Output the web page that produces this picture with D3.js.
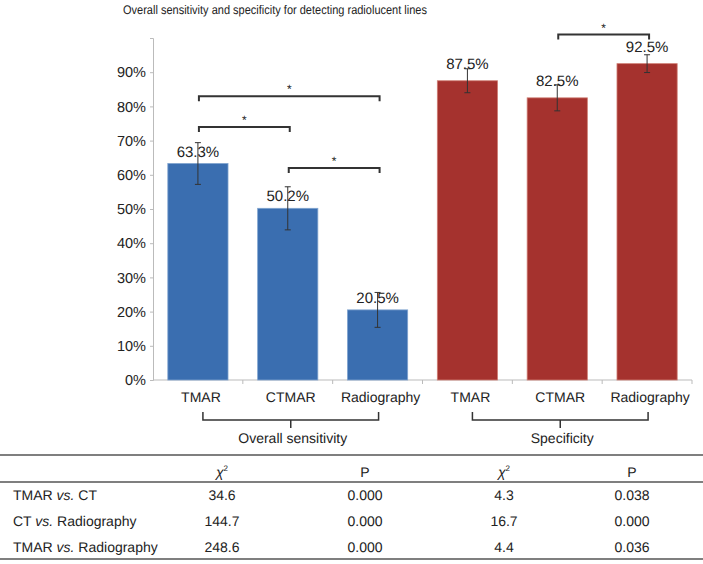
<!DOCTYPE html>
<html>
<head>
<meta charset="utf-8">
<script src="https://cdn.jsdelivr.net/npm/d3@7"></script>
<style>
  body { margin: 0; background: #fff; }
  svg { display: block; font-family: 'Liberation Sans', Arial, sans-serif; }
</style>
</head>
<body>
<div class="chart"></div>
<script>
const categories = ['TMAR', 'CTMAR', 'Radiography', 'TMAR', 'CTMAR', 'Radiography']
const groupOf = [0, 0, 0, 1, 1, 1]
const values = [63.3, 50.2, 20.5, 87.5, 82.5, 92.5]
const errors = [6.1, 6.3, 5.1, 3.5, 3.8, 2.6]
const groups = ['Overall sensitivity', 'Specificity']
const yTicks = [0, 10, 20, 30, 40, 50, 60, 70, 80, 90, 100]

// significance brackets: bar index from / to, height in % units
const brackets = [
  { from: 0, to: 2, level: 83 },
  { from: 0, to: 1, level: 74 },
  { from: 1, to: 2, level: 62 },
  { from: 4, to: 5, level: 101 }
]

const rowLabels = [
  ['TMAR ', 'vs.', ' CT'],
  ['CT ', 'vs.', ' Radiography'],
  ['TMAR ', 'vs.', ' Radiography']
]
const sensChi = ['34.6', '144.7', '248.6']
const sensP = ['0.000', '0.000', '0.000']
const specChi = ['4.3', '16.7', '4.4']
const specP = ['0.038', '0.000', '0.036']

;(function init() {
  const width = 703
  const height = 564
  const colors = ['#3a6eb0', '#a5322e']
  const strokes = ['#7fa3cf', '#cf7d73']

  const svg = d3
    .select('.chart')
    .append('svg')
    .attr('width', width)
    .attr('height', height)
    .style('text-rendering', 'geometricPrecision')

  const xScale = d3
    .scaleBand()
    .domain(d3.range(categories.length))
    .range([153, 692])
    .paddingInner(0.33)
    .paddingOuter(0.165)

  const yScale = d3.scaleLinear().domain([0, 100]).range([380, 38])

  const cx = (i) => xScale(i) + xScale.bandwidth() / 2

  // title
  svg
    .append('text')
    .attr('x', 275)
    .attr('y', 14)
    .attr('text-anchor', 'middle')
    .attr('textLength', 304)
    .attr('lengthAdjust', 'spacingAndGlyphs')
    .style('font-size', '12.5px')
    .style('fill', '#222')
    .text('Overall sensitivity and specificity for detecting radiolucent lines')

  // y axis
  const yAxis = d3
    .axisLeft(yScale)
    .tickValues(yTicks)
    .tickSize(3)
    .tickPadding(4)
    .tickFormat((d) => (d < 100 ? d + '%' : ''))

  const gy = svg.append('g').attr('transform', 'translate(153,0)').call(yAxis)
  gy.select('.domain').attr('stroke', '#bbb')
  gy.selectAll('.tick line').attr('stroke', '#bbb')
  gy.selectAll('.tick text')
    .style('font-size', '14.5px')
    .style('fill', '#222')
    .style('font-family', "'Liberation Sans', Arial, sans-serif")

  // x axis: ticks on band boundaries
  const step = xScale.step()
  const xBounds = d3.range(categories.length + 1).map((i) => 153 + i * step)
  svg
    .append('line')
    .attr('x1', 153)
    .attr('x2', 692)
    .attr('y1', yScale(0))
    .attr('y2', yScale(0))
    .attr('stroke', '#bbb')
  svg
    .selectAll('.xtick')
    .data(xBounds.slice(1))
    .enter()
    .append('line')
    .attr('x1', (d) => d)
    .attr('x2', (d) => d)
    .attr('y1', yScale(0))
    .attr('y2', yScale(0) + 4)
    .attr('stroke', '#bbb')

  // bars
  svg
    .selectAll('.bar')
    .data(values)
    .enter()
    .append('rect')
    .attr('x', (d, i) => xScale(i))
    .attr('y', (d) => yScale(d))
    .attr('width', xScale.bandwidth())
    .attr('height', (d) => yScale(0) - yScale(d))
    .attr('fill', (d, i) => colors[groupOf[i]])
    .attr('stroke', (d, i) => strokes[groupOf[i]])
    .attr('stroke-width', 0.8)

  // error bars
  const err = svg.append('g').attr('stroke', '#333').attr('stroke-width', 1)
  values.forEach((v, i) => {
    const x = cx(i)
    const top = yScale(v + errors[i])
    const bottom = yScale(v - errors[i])
    err.append('line').attr('x1', x).attr('x2', x).attr('y1', top).attr('y2', bottom)
    err.append('line').attr('x1', x - 3).attr('x2', x + 3).attr('y1', top).attr('y2', top)
    err.append('line').attr('x1', x - 3).attr('x2', x + 3).attr('y1', bottom).attr('y2', bottom)
  })

  // value labels
  svg
    .selectAll('.val')
    .data(values)
    .enter()
    .append('text')
    .attr('x', (d, i) => cx(i))
    .attr('y', (d, i) => yScale(d) - (groupOf[i] === 0 ? 7 : 12))
    .attr('text-anchor', 'middle')
    .style('font-size', '15px')
    .style('fill', '#222')
    .text((d) => d.toFixed(1) + '%')

  // category labels
  svg
    .selectAll('.cat')
    .data(categories)
    .enter()
    .append('text')
    .attr('x', (d, i) => cx(i) + 3)
    .attr('y', 402)
    .attr('text-anchor', 'middle')
    .style('font-size', '14px')
    .style('fill', '#222')
    .text((d) => d)

  // significance brackets
  brackets.forEach((b) => {
    const x1 = cx(b.from) + 1
    const x2 = cx(b.to) + 2
    const y = yScale(b.level)
    svg
      .append('path')
      .attr('d', `M${x1},${y + 5}V${y}H${x2}V${y + 5}`)
      .attr('fill', 'none')
      .attr('stroke', '#333')
      .attr('stroke-width', 2)
    svg
      .append('text')
      .attr('x', (x1 + x2) / 2)
      .attr('y', y - 3)
      .attr('text-anchor', 'middle')
      .style('font-size', '12px')
      .style('fill', '#222')
      .text('*')
  })

  // group braces + labels
  groups.forEach((g, gi) => {
    const idx = d3.range(categories.length).filter((i) => groupOf[i] === gi)
    const x1 = cx(idx[0]) + 5
    const x2 = cx(idx[idx.length - 1]) + 1
    const xm = (x1 + x2) / 2
    svg
      .append('path')
      .attr('d', `M${x1},412V420H${x2}V412M${xm},420V428`)
      .attr('fill', 'none')
      .attr('stroke', '#333')
      .attr('stroke-width', 1.5)
    svg
      .append('text')
      .attr('x', xm + 2)
      .attr('y', 443)
      .attr('text-anchor', 'middle')
      .style('font-size', '14px')
      .style('fill', '#222')
      .text(g)
  })

  // table
  const colX = [222, 365, 504, 632]
  const lineY = [455, 482, 559]
  svg
    .selectAll('.hline')
    .data(lineY)
    .enter()
    .append('line')
    .attr('x1', 0)
    .attr('x2', width)
    .attr('y1', (d) => d)
    .attr('y2', (d) => d)
    .attr('stroke', '#555')
    .attr('stroke-width', 1.5)

  const headers = ['chi', 'P', 'chi', 'P']
  headers.forEach((h, i) => {
    const t = svg
      .append('text')
      .attr('x', colX[i])
      .attr('y', 477)
      .attr('text-anchor', 'middle')
      .style('font-size', '14px')
      .style('fill', '#222')
    if (h === 'chi') {
      t.append('tspan').style('font-style', 'italic').text('χ')
      t.append('tspan').attr('dy', -6).style('font-size', '8px').text('2')
    } else {
      t.text(h)
    }
  })

  const rowY = [500, 526, 552]
  const cols = [sensChi, sensP, specChi, specP]
  rowLabels.forEach((parts, r) => {
    const t = svg
      .append('text')
      .attr('x', 13)
      .attr('y', rowY[r])
      .style('font-size', '14px')
      .style('fill', '#222')
    parts.forEach((p, k) => {
      t.append('tspan')
        .style('font-style', k === 1 ? 'italic' : 'normal')
        .text(p)
    })
    cols.forEach((col, c) => {
      svg
        .append('text')
        .attr('x', colX[c])
        .attr('y', rowY[r])
        .attr('text-anchor', 'middle')
        .style('font-size', '14px')
        .style('fill', '#222')
        .text(col[r])
    })
  })
})()
</script>
</body>
</html>
